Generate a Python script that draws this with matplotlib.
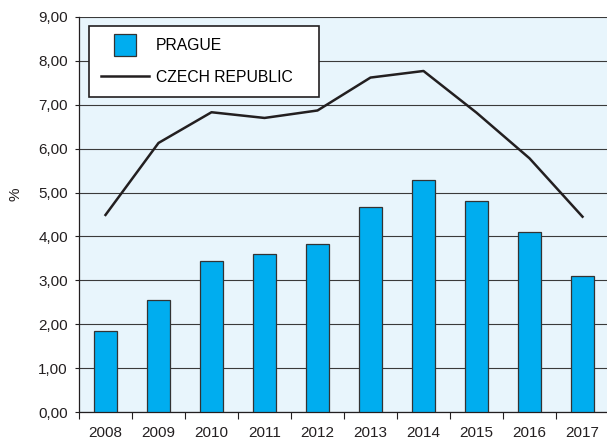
import numpy as np
from matplotlib import pyplot as plt
from matplotlib.lines import Line2D
from matplotlib.ticker import FuncFormatter

plt.rcParams['font.family'] = ['Liberation Sans', 'DejaVu Sans']

# data
years = ['2008', '2009', '2010', '2011', '2012', '2013', '2014', '2015', '2016', '2017']
prague = [1.85, 2.55, 3.44, 3.60, 3.83, 4.68, 5.28, 4.81, 4.10, 3.09]
czech = [4.49, 6.13, 6.83, 6.70, 6.87, 7.62, 7.77, 6.82, 5.78, 4.45]

barColor = '#00adef'
bgColor = '#e8f5fc'
lineColor = '#231f20'

fig = plt.figure( figsize=( 6.07, 4.41 ), dpi=100 )
ax = fig.add_axes( [ 79 / 607, 29 / 441, 530 / 607, 395 / 441 ] )
ax.set_facecolor( bgColor )

x = np.arange( len( years ) )
ax.bar( x, prague, width=0.42, color=barColor, edgecolor='#333333', linewidth=0.9, zorder=3 )
ax.plot( x, czech, color=lineColor, linewidth=1.8, zorder=4 )

ax.set_xlim( -0.5, len( years ) - 0.5 )
ax.set_ylim( 0, 9 )
ax.set_yticks( np.arange( 0, 10, 1 ) )
ax.yaxis.set_major_formatter( FuncFormatter( lambda v, p: f"{v:.2f}".replace( '.', ',' ) ) )
ax.grid( axis='y', color='#3a3a3a', linewidth=0.8, zorder=1 )
ax.set_axisbelow( True )

ax.set_xticks( x )
ax.set_xticklabels( years )
ax.set_xticks( np.arange( -0.5, len( years ), 1 ), minor=True )
ax.tick_params( axis='x', which='major', length=0, pad=10, labelsize=11, colors='#231f20' )
ax.tick_params( axis='x', which='minor', length=5, width=0.8, color='#231f20' )
ax.tick_params( axis='y', length=3, width=0.8, labelsize=11, colors='#231f20', pad=5 )

for side in [ 'right', 'top' ]:
    ax.spines[ side ].set_visible( False )
for side in [ 'left', 'bottom' ]:
    ax.spines[ side ].set_color( '#231f20' )
    ax.spines[ side ].set_linewidth( 0.9 )

ax.set_ylabel( '%', fontsize=11, color='#231f20' )
ax.yaxis.set_label_coords( -0.106, 0.552 )

handles = [
    Line2D( [], [], linestyle='none', marker='s', markersize=16.3, markerfacecolor=barColor,
            markeredgecolor='#333333', markeredgewidth=0.9 ),
    Line2D( [], [], color=lineColor, linewidth=1.8 ),
]
leg = ax.legend( handles, [ 'PRAGUE', 'CZECH REPUBLIC' ], loc='upper left',
                 bbox_to_anchor=( 10 / 530, 0.3, 230 / 530, ( 412 - 26 ) / 395 - 0.3 ),
                 borderaxespad=0, mode='expand', fontsize=11.3, handlelength=3.04,
                 handletextpad=0.45, labelspacing=1.06, borderpad=0.78, fancybox=False,
                 framealpha=1, edgecolor='#231f20' )
leg.get_frame().set_linewidth( 1.2 )

fig.savefig( 'out.png', dpi=100 )
